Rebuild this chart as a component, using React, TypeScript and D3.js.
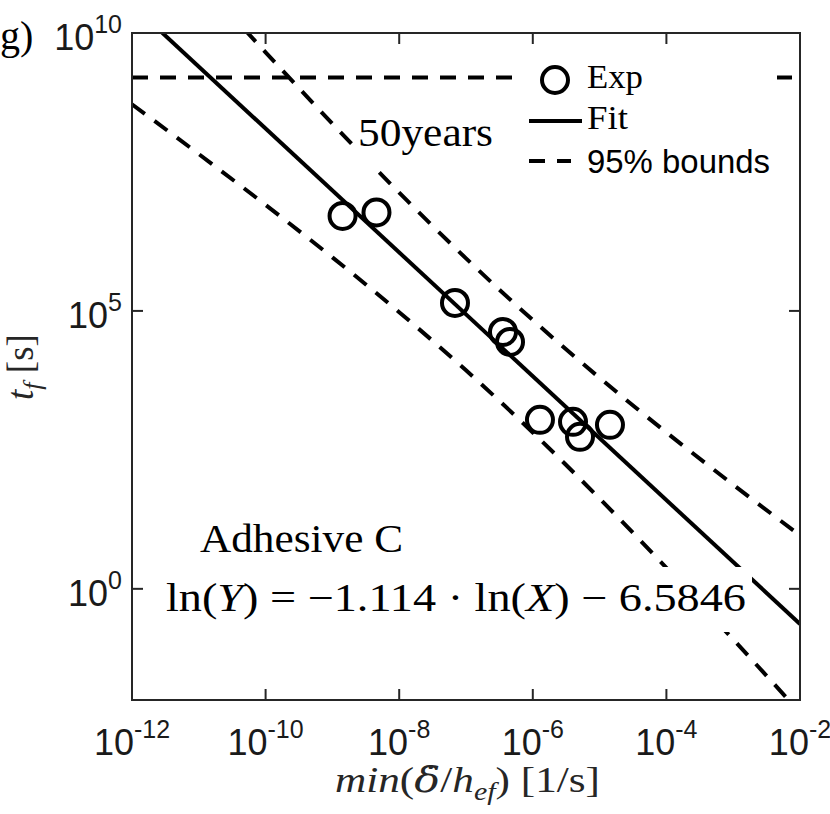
import React from "react";
import * as d3 from "d3";

// Experimental points: min(delta_dot / h_ef) [1/s] vs t_f [s]
const expX = [1.42e-9, 4.57e-9, 6.84e-8, 3.58e-7, 4.56e-7, 1.28e-6, 4.0e-6, 5.09e-6, 1.43e-5];
const expY = [5.12e6, 5.92e6, 1.39e5, 4.19e4, 2.77e4, 1096, 1009, 542, 891];

// Fit: ln(Y) = -1.114 ln(X) - 6.5846
const fitSlope = -1.114;
const fitIntercept = -6.5846;
const fitRange = [1e-12, 1e-2];

// 95% prediction bounds
const boundX = [1e-12, 1e-11, 1e-10, 1e-9, 1e-8, 1e-7, 1e-6, 1e-5, 1e-4, 1e-3, 1e-2];
const boundUpper = [1.99e12, 9.25e10, 4.5e9, 2.34e8, 1.34e7, 8.83e5, 6.84e4, 6.25e3, 652, 74.8, 9.14];
const boundLower = [5.21e8, 6.64e7, 8.07e6, 9.2e5, 9.48e4, 8.53e3, 650, 42.1, 2.39, 0.123, 5.96e-3];

// 50 years in seconds
const fiftyYears = 1.578e9;

const xTicks = [1e-12, 1e-10, 1e-8, 1e-6, 1e-4, 1e-2];
const xTickExp = ["-12", "-10", "-8", "-6", "-4", "-2"];
const yTicks = [1, 1e5, 1e10];
const yTickExp = ["0", "5", "10"];

const SERIF = "'Liberation Serif', 'Times New Roman', serif";
const SANS = "'Liberation Sans', Arial, Helvetica, sans-serif";

export default function App() {
  const L = 132, R = 800, T = 33, B = 700;
  const x = d3.scaleLog().domain([1e-12, 1e-2]).range([L, R]);
  const y = d3.scaleLog().domain([1e-2, 1e10]).range([B, T]);

  const fitPts: [number, number][] = fitRange.map((v) => [v, Math.exp(fitSlope * Math.log(v) + fitIntercept)]);
  const line = d3
    .line<[number, number]>()
    .x((d) => x(d[0]))
    .y((d) => y(d[1]));
  const curve = d3
    .line<[number, number]>()
    .x((d) => x(d[0]))
    .y((d) => y(d[1]))
    .curve(d3.curveMonotoneX);

  const upperPts: [number, number][] = boundX.map((v, i) => [v, boundUpper[i]]);
  const lowerPts: [number, number][] = boundX.map((v, i) => [v, boundLower[i]]);

  const axisColor = "#262626";
  const lw = 4;
  const dash = "16,12";
  const tickLen = 11;

  return (
    <svg
      width={830}
      height={814}
      style={{ position: "absolute", left: 0, top: 0, background: "#fff" }}
    >
      <defs>
        <clipPath id="plotclip">
          <rect x={L} y={T} width={R - L} height={B - T} />
        </clipPath>
      </defs>
      <rect x={0} y={0} width={830} height={814} fill="#fff" />

      <g clipPath="url(#plotclip)">
        <path d={curve(upperPts) || ""} fill="none" stroke="#000" strokeWidth={lw} strokeDasharray={dash} />
        <path d={curve(lowerPts) || ""} fill="none" stroke="#000" strokeWidth={lw} strokeDasharray={dash} />
        <path d={line(fitPts) || ""} fill="none" stroke="#000" strokeWidth={lw} />
        <line
          x1={L}
          x2={R}
          y1={y(fiftyYears)}
          y2={y(fiftyYears)}
          stroke="#000"
          strokeWidth={lw}
          strokeDasharray={dash}
        />
        {expX.map((v, i) => (
          <circle key={i} cx={x(v)} cy={y(expY[i])} r={13} fill="none" stroke="#000" strokeWidth={lw} />
        ))}

        {/* text boxes with white background */}
        <rect x={353} y={108} width={145} height={62} fill="#fff" />
        <text x={358} y={146} fontFamily={SERIF} fontSize={40} textLength={135} lengthAdjust="spacingAndGlyphs">
          50years
        </text>

        <rect x={160} y={567} width={592} height={65} fill="#fff" />
        <text x={200} y={552} fontFamily={SERIF} fontSize={40} textLength={203} lengthAdjust="spacingAndGlyphs">
          Adhesive C
        </text>
        <text x={166} y={611} fontFamily={SERIF} fontSize={40} textLength={580} lengthAdjust="spacingAndGlyphs">
          ln(<tspan fontStyle="italic">Y</tspan>) = −1.114 · ln(<tspan fontStyle="italic">X</tspan>) − 6.5846
        </text>

        {/* legend */}
        <rect x={522} y={58} width={255} height={132} fill="#fff" />
        <circle cx={555} cy={80} r={13} fill="none" stroke="#000" strokeWidth={lw} />
        <text x={587} y={88} fontFamily={SERIF} fontSize={33} textLength={56} lengthAdjust="spacingAndGlyphs">
          Exp
        </text>
        <line x1={529} x2={582} y1={121} y2={121} stroke="#000" strokeWidth={lw} />
        <text x={587} y={129} fontFamily={SERIF} fontSize={33} textLength={41} lengthAdjust="spacingAndGlyphs">
          Fit
        </text>
        <line x1={529} x2={571} y1={161} y2={161} stroke="#000" strokeWidth={lw} strokeDasharray={dash} />
        <text x={587} y={173} fontFamily={SANS} fontSize={34} textLength={183} lengthAdjust="spacingAndGlyphs">
          95% bounds
        </text>
      </g>

      {/* axes box */}
      <rect x={L} y={T} width={R - L} height={B - T} fill="none" stroke={axisColor} strokeWidth={2} />
      {xTicks.map((v, i) => (
        <g key={"xt" + i}>
          <line x1={x(v)} x2={x(v)} y1={B} y2={B - tickLen} stroke={axisColor} strokeWidth={2} />
          <line x1={x(v)} x2={x(v)} y1={T} y2={T + tickLen} stroke={axisColor} strokeWidth={2} />
          <text x={x(v)} y={755} textAnchor="middle" fontFamily={SANS} fontSize={36} fill="#1a1a1a">
            10
            <tspan fontSize={25} dy={-17}>
              {xTickExp[i]}
            </tspan>
          </text>
        </g>
      ))}
      {yTicks.map((v, i) => (
        <g key={"yt" + i}>
          <line x1={L} x2={L + tickLen} y1={y(v)} y2={y(v)} stroke={axisColor} strokeWidth={2} />
          <line x1={R} x2={R - tickLen} y1={y(v)} y2={y(v)} stroke={axisColor} strokeWidth={2} />
          <text x={122} y={y(v) + 17} textAnchor="end" fontFamily={SANS} fontSize={36} fill="#1a1a1a">
            10
            <tspan fontSize={25} dy={-17}>
              {yTickExp[i]}
            </tspan>
          </text>
        </g>
      ))}

      {/* panel label */}
      <text x={0} y={49} fontFamily={SERIF} fontSize={40}>
        g)
      </text>

      {/* axis labels */}
      <text
        x={335}
        y={792}
        fontFamily={SERIF}
        fontSize={36}
        fill="#262626"
        textLength={265}
        lengthAdjust="spacingAndGlyphs"
      >
        <tspan fontStyle="italic">min</tspan>(<tspan fontStyle="italic" fontFamily="'DejaVu Serif', serif">{"δ\u0307"}</tspan>/<tspan fontStyle="italic">h</tspan>
        <tspan fontStyle="italic" fontSize={25} dy={8}>
          ef
        </tspan>
        <tspan dy={-8}>) [1/s]</tspan>
      </text>
      <text
        transform="translate(33,367) rotate(-90)"
        textAnchor="middle"
        fontFamily={SERIF}
        fontSize={37}
        fill="#262626"
      >
        <tspan fontStyle="italic">t</tspan>
        <tspan fontStyle="italic" fontSize={26} dy={8}>
          f
        </tspan>
        <tspan dy={-8}> [s]</tspan>
      </text>
    </svg>
  );
}
